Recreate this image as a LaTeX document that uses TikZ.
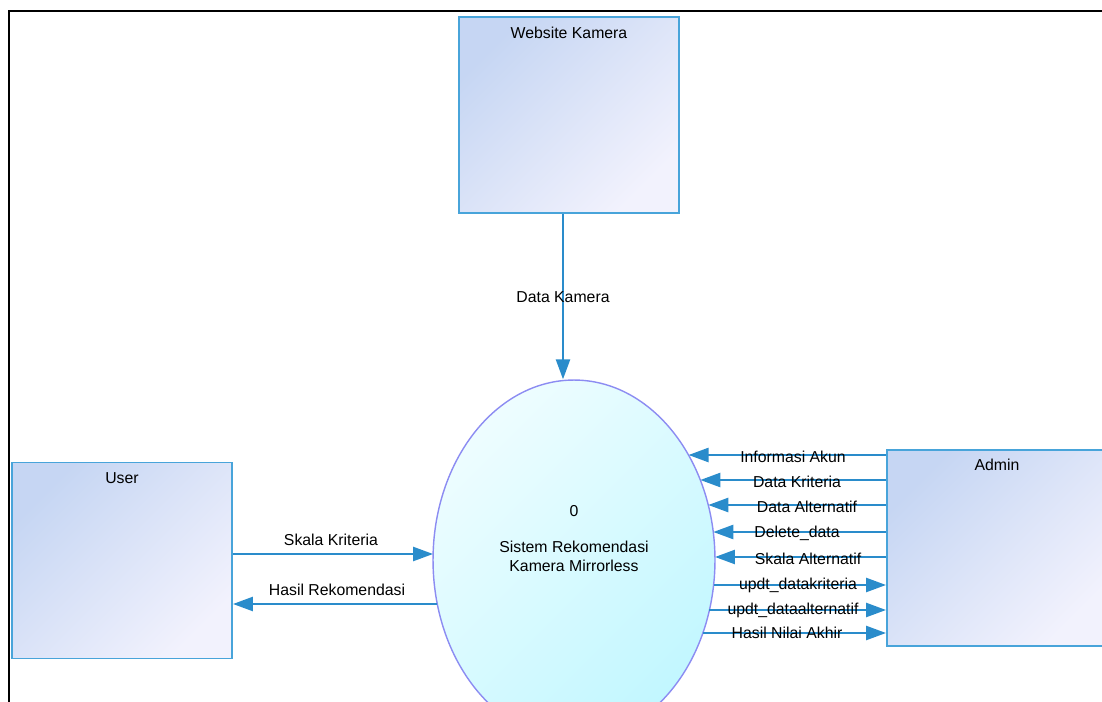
\documentclass[tikz,border=0pt]{standalone}
\usepackage{fontspec}
\setmainfont{Liberation Sans}
\usetikzlibrary{positioning,shapes.geometric,arrows.meta}

\definecolor{boxline}{HTML}{48A4DA}
\definecolor{boxtop}{HTML}{C6D6F3}
\definecolor{boxbot}{HTML}{F2F2FD}
\definecolor{procline}{HTML}{8C8CF2}
\definecolor{proctop}{HTML}{EEFDFF}
\definecolor{procbot}{HTML}{C2F7FF}
\definecolor{flowline}{HTML}{2A8CCB}

\tikzset{
  entity/.style={draw=boxline, line width=1.1pt, top color=boxtop, bottom color=boxbot,
    shading angle=45, minimum width=4.4cm, minimum height=3.92cm, inner sep=0pt},
  process/.style={ellipse, draw=procline, line width=0.8pt, top color=proctop,
    bottom color=procbot, shading angle=45, minimum width=5.64cm, minimum height=7.2cm,
    inner sep=0pt},
  proctitle/.style={align=center, font=\fontsize{9}{11}\selectfont},
  flow/.style={draw=flowline, line width=1.4pt, -{Triangle[length=0.4cm,width=0.28cm]}},
  flowlabel/.style={font=\fontsize{9}{11}\selectfont, inner sep=1pt},
  boxtitle/.style={font=\fontsize{9}{11}\selectfont}
}

\begin{document}
\begin{tikzpicture}[x=0.02cm, y=-0.02cm] % pixel grid, y going down

        \useasboundingbox (0,0) rectangle (1102,702);
        \clip (0,0) rectangle (1102,702);

        % Frame
        \draw[line width=0.05cm] (9,702) -- (9,11) -- (1102,11);

        % External entities
        \node[entity] (wk) at (569,115) {};
        \node[boxtitle, below=0.1cm of wk.north] (wktitle) {Website Kamera};

        \node[entity] (user) at (122,560.5) {};
        \node[boxtitle, below=0.1cm of user.north] (usertitle) {User};

        \node[entity] (admin) at (997,548) {};
        \node[boxtitle, below=0.08cm of admin.north] (admintitle) {Admin};

        % Process (runs past the bottom edge)
        \node[process] (proc) at (574,560) {};
        \node[proctitle] (proctext) at ([yshift=0.43cm]proc.center)
          {0\\[9.5pt]Sistem Rekomendasi\\Kamera Mirrorless};

        % Website Kamera -> process
        \draw[flow] ([xshift=-0.12cm]wk.south) -- ([xshift=-0.12cm]wk.south |- proc.north);
        \node[flowlabel] (lblkamera) at (563,297) {Data Kamera};

        % User <-> process
        \pgfmathsetmacro\exa{574-141*sqrt(1-((554-560)/180)^2)}
        \pgfmathsetmacro\exb{574-141*sqrt(1-((604-560)/180)^2)}
        \coordinate (ua) at (\exa,554);
        \coordinate (ub) at (\exb,604);
        \draw[flow] (user.east |- ua) -- (ua);
        \node[flowlabel] (lblskala) at (331,540) {Skala Kriteria};
        \draw[flow] (ub) -- (user.east |- ub);
        \node[flowlabel] (lblhasil) at (337,590) {Hasil Rekomendasi};

        % Admin -> process
        \foreach \yy/\lx/\txt [count=\i] in {455/793/Informasi Akun, 480/797/Data Kriteria,
            505/807/Data Alternatif, 532/797/Delete\_data, 557/808/Skala Alternatif}
        {
          \pgfmathsetmacro\ex{574+141*sqrt(1-((\yy-560)/180)^2)}
          \coordinate (in\i) at (\ex,\yy);
          \draw[flow] (admin.west |- in\i) -- (in\i);
          \node[flowlabel] (inlbl\i) at (\lx,\yy+1.5) {\txt};
        }

        % process -> Admin
        \foreach \yy/\lx/\txt [count=\i] in {585/798/updt\_datakriteria,
            610/793/updt\_dataalternatif, 633/787/Hasil Nilai Akhir}
        {
          \pgfmathsetmacro\ex{574+141*sqrt(1-((\yy-560)/180)^2)}
          \coordinate (out\i) at (\ex,\yy);
          \draw[flow] (out\i) -- (admin.west |- out\i);
          \node[flowlabel] (outlbl\i) at (\lx,\yy) {\txt};
        }

\end{tikzpicture}
\end{document}
